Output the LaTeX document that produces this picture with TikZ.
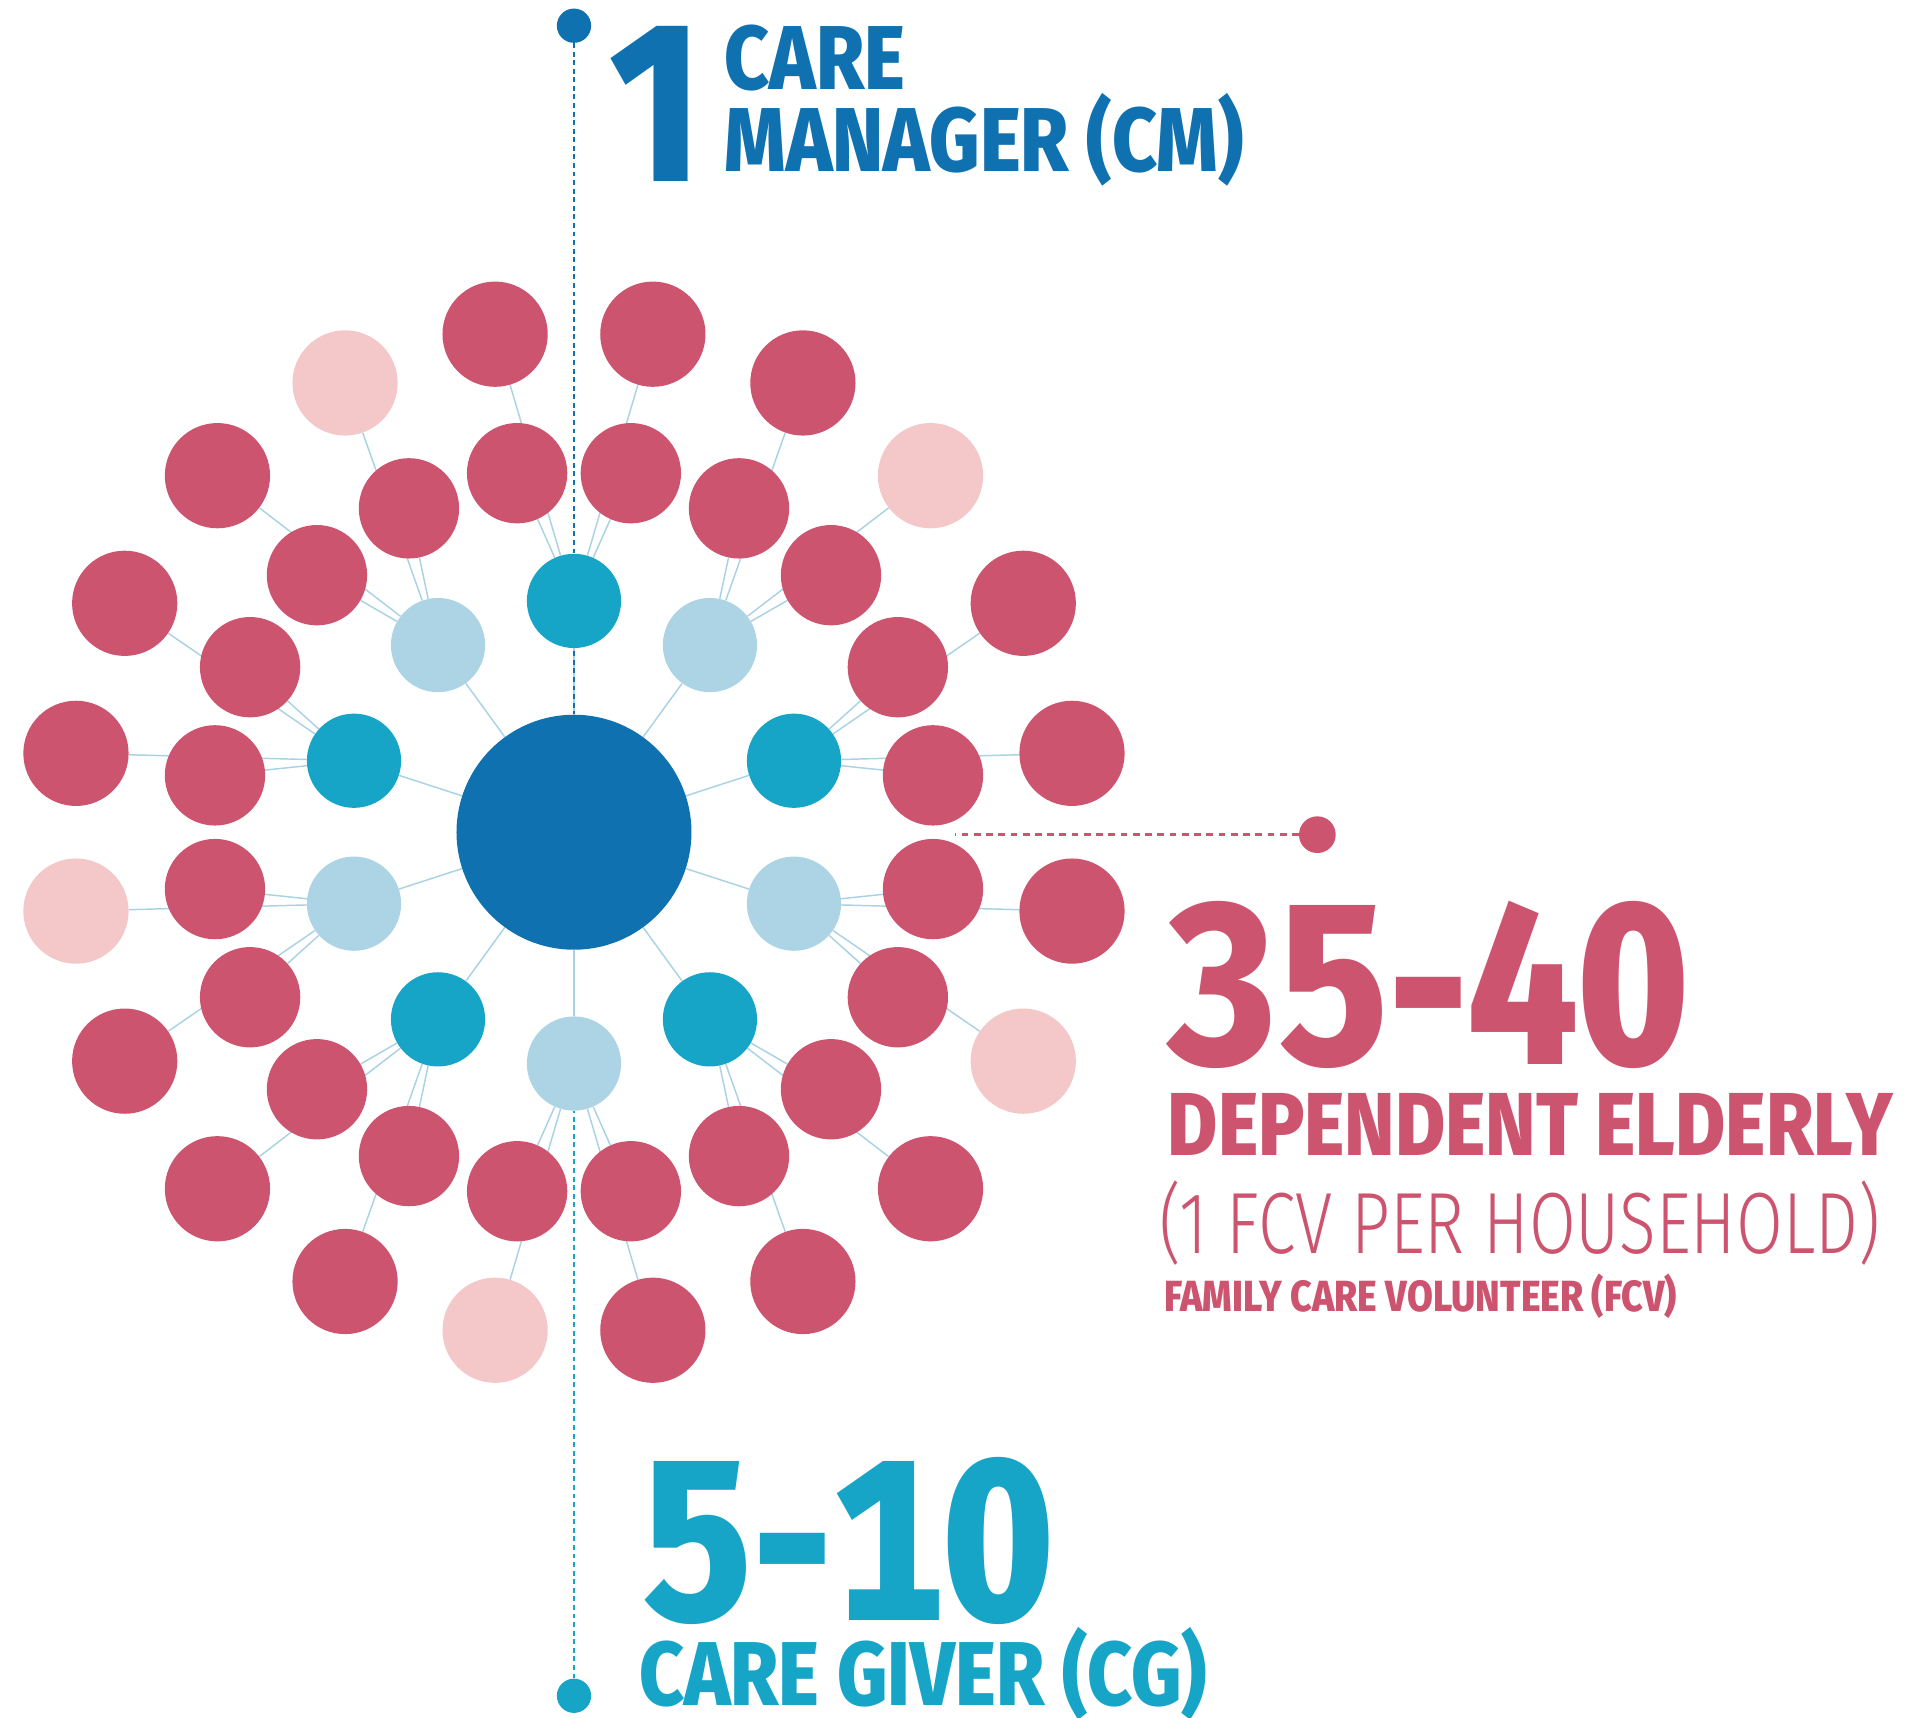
\documentclass[tikz,border=0pt]{standalone}
\usepackage{fontspec}
\usepackage{tikz}
\usetikzlibrary{calc}
\usetikzlibrary{positioning}
\usetikzlibrary{backgrounds}

\newfontfamily\heavyfont[FakeStretch=0.86]{Fira Sans ExtraBold}
\newfontfamily\numfont[FakeStretch=0.86, Numbers=Tabular]{Fira Sans ExtraBold}
\newfontfamily\thinfont[FakeStretch=0.78]{Fira Sans Light}

\definecolor{cmblue}{HTML}{0F71AF}
\definecolor{cgteal}{HTML}{16A5C7}
\definecolor{cgpale}{HTML}{ADD4E4}
\definecolor{fcvred}{HTML}{CD546F}
\definecolor{fcvpale}{HTML}{F4C7C9}
\definecolor{linkblue}{HTML}{A9D3E5}

\begin{document}
\begin{tikzpicture}[x=1pt,y=1pt]
	\tikzset{blob/.style={shape=circle, inner sep=0pt, draw=none, fill=#1}}
	\tikzset{manager/.style={blob=cmblue, minimum size=192pt}}
	\tikzset{giver/.style={blob=cgteal, minimum size=77pt}}
	\tikzset{giverpale/.style={blob=cgpale, minimum size=77pt}}
	\tikzset{elder/.style={blob=fcvred, minimum size=82pt}}
	\tikzset{elderfar/.style={blob=#1, minimum size=86pt}}
	\tikzset{link/.style={draw=linkblue, line width=1.2pt}}
	\tikzset{guide/.style={line width=1.6pt, dash pattern=on 4pt off 3pt}}
	\tikzset{txt/.style={inner sep=0pt, anchor=base west, text depth=0pt}}
	\tikzset{bignum/.style={txt, text height=130pt, font=\numfont\fontsize{187}{187}\selectfont}}
	\tikzset{head/.style={txt, text height=52pt, font=\heavyfont\fontsize{74}{74}\selectfont}}
	\useasboundingbox (-469,680) rectangle (1099,-723);

	% hub, care givers and their households
	\node[manager] (cm) at (0,0) {};
	\foreach \a/\g/\c [count=\k] in {90/giver/fcvred, 54/giverpale/fcvpale, 18/giver/fcvred, -18/giverpale/fcvpale, -54/giver/fcvred, -90/giverpale/fcvpale, -126/giver/fcvred, -162/giverpale/fcvpale, 162/giver/fcvred, 126/giverpale/fcvpale}{
		\node[\g] (cg\k) at (\a:189) {};
		\node[elder] (in\k-a) at (\a-9:297) {};
		\node[elder] (in\k-b) at (\a+9:297) {};
		\node[elderfar=\c] (out\k-a) at (\a-9:412) {};
		\node[elderfar=fcvred] (out\k-b) at (\a+9:412) {};
		\begin{scope}[on background layer]
			\draw[link] (cm) -- (cg\k);
			\draw[link] (cg\k) -- (in\k-a);
			\draw[link] (cg\k) -- (in\k-b);
			\draw[link] (cg\k) -- (out\k-a);
			\draw[link] (cg\k) -- (out\k-b);
		\end{scope}
	}

	% markers for the three labels
	\node[blob=cmblue, minimum size=28pt] (cmdot) at (0,659) {};
	\node[blob=cgteal, minimum size=28pt] (cgdot) at (0,-705.6) {};
	\node[blob=fcvred, minimum size=30pt] (fcvdot) at (607.4,-2) {};
	\coordinate (fcvstart) at (311,-2);
	\begin{scope}[on background layer]
		\draw[guide, cmblue] (cmdot) -- (cm);
		\draw[guide, cgteal] (cgdot) -- (cg6);
		\draw[fcvred, line width=2.2pt, dash pattern=on 5.5pt off 4.5pt] (fcvdot) -- (fcvstart);
	\end{scope}

	% labels
	\node[txt, text height=130pt, text=cmblue, font=\heavyfont\fontsize{187}{187}\selectfont] (cmnum) at (28.8,531.6) {1};
	\node[head, text=cmblue] (cmtop) at (123,607) {CARE};
	\node[head, text=cmblue] (cmbot) at (123,539.7) {MANAGER (CM)};
	\node[bignum, text=fcvred] (fcvnum) at (485,-189.5) {35-40};
	\node[head, text=fcvred, font=\heavyfont\fontsize{73}{73}\selectfont] (fcvtext) at (485,-264.5) {DEPENDENT ELDERLY};
	\node[txt, text height=50pt, text=fcvred, font=\thinfont\fontsize{71}{71}\selectfont] (fcvnote) at (478,-344) {(1 FCV PER HOUSEHOLD)};
	\node[txt, text height=26pt, text=fcvred, font=\heavyfont\fontsize{35.6}{36}\selectfont] (fcvkey) at (482,-391.7) {FAMILY CARE VOLUNTEER (FCV)};
	\node[bignum, text=cgteal] (cgnum) at (56,-644) {5-10};
	\node[head, text=cgteal] (cgtext) at (53,-713.6) {CARE GIVER (CG)};
\end{tikzpicture}
\end{document}
